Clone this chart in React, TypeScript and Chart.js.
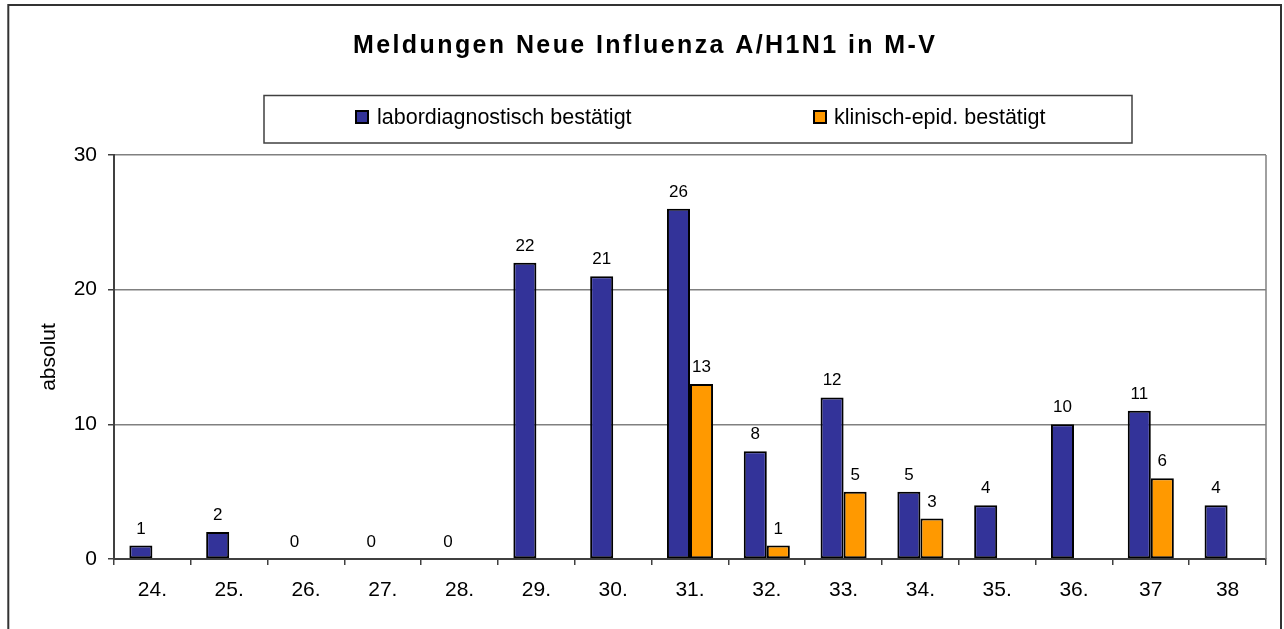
import React, { useEffect, useRef } from 'react';
import { Chart, registerables } from 'chart.js';

Chart.register(...registerables);

const FONT = '"Liberation Sans", Arial, Helvetica, sans-serif';

const chartTitle = 'Meldungen Neue Influenza A/H1N1 in M-V';
const yAxisTitle = 'absolut';
const weeks = ['24.', '25.', '26.', '27.', '28.', '29.', '30.', '31.', '32.', '33.', '34.', '35.', '36.', '37', '38'];
const seriesNames = ['labordiagnostisch bestätigt', 'klinisch-epid. bestätigt'];
const seriesColors = ['#333399', '#FF9900'];
const labor = [1, 2, 0, 0, 0, 22, 21, 26, 8, 12, 5, 4, 10, 11, 4];
const klinisch = [null, null, null, null, null, null, null, 13, 1, 5, 3, null, null, 6, null];
const yMin = 0;
const yMax = 30;
const yStep = 10;

const decorPlugin = {
  id: 'decor',
  beforeDraw(chart: any) {
    const ctx = chart.ctx;
    ctx.save();
    ctx.fillStyle = '#ffffff';
    ctx.fillRect(0, 0, chart.width, chart.height);
    ctx.strokeStyle = '#333333';
    ctx.lineWidth = 2;
    ctx.strokeRect(8.3, 5, 1272.7, 700);
    ctx.restore();
  },
  afterDatasetsDraw(chart: any) {
    const ctx = chart.ctx;
    const area = chart.chartArea;
    ctx.save();
    // right plot border
    ctx.strokeStyle = '#808080';
    ctx.lineWidth = 1.5;
    ctx.beginPath();
    ctx.moveTo(area.right, area.top);
    ctx.lineTo(area.right, area.bottom);
    ctx.stroke();
    // data labels
    ctx.fillStyle = '#000';
    ctx.font = `17px ${FONT}`;
    ctx.textAlign = 'center';
    ctx.textBaseline = 'alphabetic';
    chart.data.datasets.forEach((ds: any, di: number) => {
      const meta = chart.getDatasetMeta(di);
      meta.data.forEach((bar: any, i: number) => {
        const v = ds.data[i];
        if (v === null || v === undefined) return;
        ctx.fillText(String(v), bar.x, bar.y - 12);
      });
    });
    ctx.restore();
  },
  afterDraw(chart: any) {
    const ctx = chart.ctx;
    ctx.save();
    // title
    ctx.fillStyle = '#000';
    ctx.font = `bold 25px ${FONT}`;
    (ctx as any).letterSpacing = '2.4px';
    ctx.textAlign = 'left';
    ctx.textBaseline = 'alphabetic';
    ctx.fillText(chartTitle, 353, 53);
    (ctx as any).letterSpacing = '0px';
    // legend box
    ctx.strokeStyle = '#404040';
    ctx.lineWidth = 1.5;
    ctx.strokeRect(264, 95.5, 868, 47.5);
    const items = [
      { sx: 356, tx: 377 },
      { sx: 814, tx: 834 },
    ];
    ctx.font = `21.5px ${FONT}`;
    chart.data.datasets.forEach((ds: any, i: number) => {
      const it = items[i];
      ctx.fillStyle = ds.backgroundColor;
      ctx.fillRect(it.sx, 111, 12, 12);
      ctx.strokeStyle = '#000';
      ctx.lineWidth = 2;
      ctx.strokeRect(it.sx, 111, 12, 12);
      ctx.fillStyle = '#000';
      ctx.fillText(ds.label, it.tx, 124);
    });
    ctx.restore();
  },
};

export default function App() {
  const ref = useRef<HTMLCanvasElement | null>(null);

  useEffect(() => {
    if (!ref.current) return;
    const chart = new Chart(ref.current, {
      type: 'bar',
      data: {
        labels: weeks,
        datasets: [
          {
            label: seriesNames[0],
            data: labor,
            backgroundColor: seriesColors[0],
            borderColor: '#000000',
            borderWidth: 2,
            borderSkipped: false,
            categoryPercentage: 0.6,
            barPercentage: 1.0,
          },
          {
            label: seriesNames[1],
            data: klinisch,
            backgroundColor: seriesColors[1],
            borderColor: '#000000',
            borderWidth: 2,
            borderSkipped: false,
            categoryPercentage: 0.6,
            barPercentage: 1.0,
          },
        ],
      },
      options: {
        responsive: false,
        animation: false,
        devicePixelRatio: 1,
        layout: { padding: { left: 0, top: 155, right: 18, bottom: 0 } },
        plugins: {
          legend: { display: false },
          title: { display: false },
          tooltip: { enabled: false },
        },
        scales: {
          x: {
            grid: {
              display: true,
              drawOnChartArea: false,
              drawTicks: true,
              tickLength: 6,
              tickColor: '#404040',
              lineWidth: 1.5,
              offset: true,
            },
            border: { display: true, color: '#404040', width: 2 },
            ticks: {
              color: '#000',
              font: { family: FONT, size: 21 },
              padding: 13,
              maxRotation: 0,
              autoSkip: false,
            },
            afterFit(scale: any) {
              scale.height = 70;
            },
          },
          y: {
            min: yMin,
            max: yMax,
            grid: {
              color: '#808080',
              lineWidth: 1.5,
              tickLength: 6,
              tickColor: '#404040',
              drawTicks: true,
            },
            border: { display: true, color: '#404040', width: 2 },
            ticks: {
              stepSize: yStep,
              color: '#000',
              font: { family: FONT, size: 21 },
              padding: 11,
            },
            title: {
              display: true,
              text: yAxisTitle,
              color: '#000',
              font: { family: FONT, size: 21 },
              padding: { top: 37, bottom: 0 },
            },
            afterFit(scale: any) {
              scale.width = 114;
            },
          },
        },
      },
      plugins: [decorPlugin],
    });
    return () => chart.destroy();
  }, []);

  return (
    <div style={{ position: 'fixed', left: 0, top: 0, width: 1284, height: 629, background: '#fff' }}>
      <canvas ref={ref} width={1284} height={629} style={{ display: 'block', width: 1284, height: 629 }} />
    </div>
  );
}
